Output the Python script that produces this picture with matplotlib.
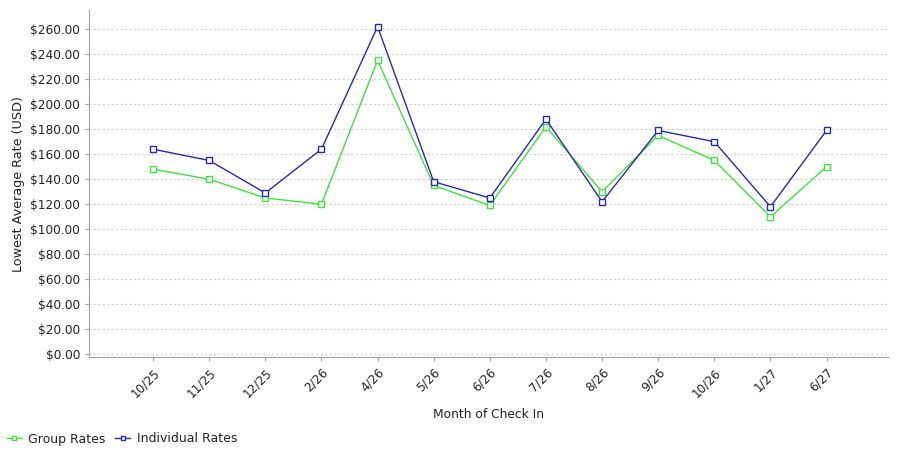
import numpy as np
import matplotlib
matplotlib.use('Agg')
import matplotlib.pyplot as plt
from matplotlib.ticker import FuncFormatter, MultipleLocator

months = ['10/25', '11/25', '12/25', '2/26', '4/26', '5/26', '6/26',
          '7/26', '8/26', '9/26', '10/26', '1/27', '6/27']
group_rates = [148, 140, 125, 120, 235, 135, 119, 182, 130, 175, 155, 110, 150]
individual_rates = [164, 155, 129, 164, 262, 138, 125, 188, 122, 179, 170, 118, 179]

green = '#3fe23f'
blue = '#2a2aa8'

plt.rcParams['font.family'] = 'DejaVu Sans'
fig = plt.figure(figsize=(9, 4.5), dpi=100)
ax = fig.add_axes([0.099, 0.207, 0.888, 0.77])

x = np.arange(len(months))
ax.plot(x, group_rates, color=green, lw=1, marker='s', ms=4,
        mfc='white', mec=green, mew=1, label='Group Rates')
ax.plot(x, individual_rates, color=blue, lw=1, marker='s', ms=4,
        mfc='white', mec=blue, mew=1, label='Individual Rates')

ax.set_xlim(-1.14, 13.1)
ax.set_ylim(-2, 275)
ax.yaxis.set_major_locator(MultipleLocator(20))
ax.yaxis.set_major_formatter(FuncFormatter(lambda v, p: '${:.2f}'.format(v)))
ax.set_xticks(x)
ax.set_xticklabels(months, rotation=45, ha='right', rotation_mode='anchor')

ax.grid(axis='y', color='#d0d0d0', ls=(0, (2, 2)), lw=0.8)
ax.set_axisbelow(True)
for s in ['top', 'right']:
    ax.spines[s].set_visible(False)
for s in ['left', 'bottom']:
    ax.spines[s].set_color('#a0a0a0')
ax.tick_params(axis='both', colors='#a0a0a0', labelcolor='#222222',
               labelsize=8.7, length=3)

ax.set_xlabel('Month of Check In', fontsize=8.8, color='#222222', labelpad=6)
ax.set_ylabel('Lowest Average Rate (USD)', fontsize=9.2, color='#222222')

fig.legend(loc='lower left', bbox_to_anchor=(-0.005, -0.015), ncol=2,
           frameon=False, fontsize=9, handlelength=1.2, handletextpad=0.5,
           columnspacing=0.8, markerscale=0.8, labelcolor='#222222')

fig.savefig('out.png', dpi=100)
